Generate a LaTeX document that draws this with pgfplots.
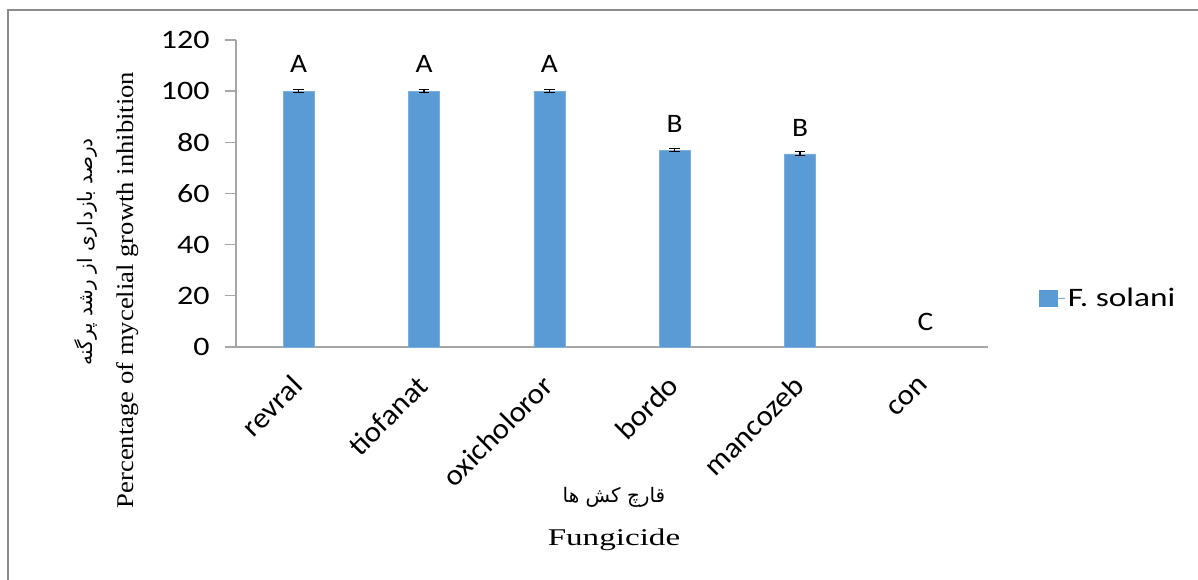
\documentclass[border=0pt]{standalone}
\usepackage{pgfplots}
\pgfplotsset{compat=1.18}
\usepackage{pgfplotstable}
\usepackage{fontspec}
\TeXXeTstate=1
\newfontfamily\calfont[FakeStretch=1.1]{Carlito}
\newfontfamily\calcat[FakeStretch=1.05]{Carlito}
\newfontfamily\calnum[FakeStretch=1.2]{Carlito}
\newfontfamily\callegend[FakeStretch=1.25]{Carlito}
\newfontfamily\timesx[FakeStretch=1.38]{Liberation Serif}
\newfontfamily\timesy[FakeStretch=1.11]{Liberation Serif}
\newfontfamily\arabicfont[Script=Arabic]{DejaVu Sans}
\definecolor{barblue}{HTML}{5B9BD5}
\definecolor{axisgray}{HTML}{A6A6A6}
\definecolor{framegray}{HTML}{8C8C8C}
\newcommand\pxc[2]{({(#1-236)*0.75pt},{(347-#2)*0.75pt})}
\pgfplotstableread{
x y err
0 100 0.5
1 100 0.5
2 100 0.5
3 77 0.5
4 75.5 0.8
}\bartab
\pgfplotstableread{
x ly label
0 110.6 A
1 110.6 A
2 110.6 A
3 87.2 B
4 85.7 B
5 9.8 C
}\lettertab
\begin{document}
\begin{tikzpicture}
\begin{axis}[
  at={(0,0)}, anchor=south west,
  scale only axis,
  width=564pt, height=230.25pt,
  xmin=-0.5, xmax=5.5,
  ymin=0, ymax=120,
  ytick={0,20,...,120},
  xtick={0,1,2,3,4,5},
  xticklabels={revral,tiofanat,oxicholoror,bordo,mancozeb,con},
  axis lines*=left,
  axis line style={draw=axisgray, line width=1pt, -},
  tick align=outside,
  major tick length=8.25pt,
  ytick style={draw=axisgray, line width=1pt},
  xtick style={draw=none},
  /pgf/number format/assume math mode=true,
  yticklabel style={font=\calnum\fontsize{20}{24}\selectfont, xshift=-8pt},
  xticklabel style={font=\calcat\fontsize{22}{26}\selectfont, yshift=-17pt, xshift=-1pt, rotate=45, anchor=east, inner sep=0pt},
  legend style={at={(1.0625,0.16)}, anchor=west, draw=none, fill=none,
    font=\callegend\fontsize{20}{24}\selectfont},
  legend image code/.code={\fill[barblue] (0pt,-6pt) rectangle (13pt,6pt); \path (13pt,0) -- (19pt,0);},
  clip=false,
]
\addplot[ybar, bar width=23.25pt, fill=barblue, draw=barblue!80!white,
  error bars/.cd, y dir=both, y explicit,
  error bar style={black, line width=0.9pt},
  error mark options={rotate=90, mark size=4pt, line width=0.9pt, black}]
  table[x=x, y=y, y error=err]{\bartab};
\addlegendentry{F. solani}
\addplot[draw=none, forget plot, nodes near coords, point meta=explicit symbolic,
  nodes near coords style={anchor=center, font=\calfont\fontsize{20}{24}\selectfont, text=black}]
  table[x=x, y=ly, meta=label]{\lettertab};
\end{axis}
\node[rotate=90, font=\timesy\fontsize{18}{22}\selectfont] at \pxc{128}{290} {Percentage of mycelial growth inhibition};
\node[rotate=90, font=\arabicfont\fontsize{15}{18}\selectfont] at \pxc{86}{252} {\beginR درصد بازداری از رشد پرگنه\endR};
\node[font=\arabicfont\fontsize{15}{18}\selectfont] at \pxc{614}{497} {\beginR قارچ کش ها\endR};
\node[font=\timesx\fontsize{18}{22}\selectfont] at \pxc{614}{540} {Fungicide};
\draw[framegray, line width=1.5pt] \pxc{8}{580} -- \pxc{8}{10} -- \pxc{1198}{10};
\pgfresetboundingbox
\useasboundingbox \pxc{0}{580} rectangle \pxc{1198}{0};
\end{tikzpicture}
\end{document}
